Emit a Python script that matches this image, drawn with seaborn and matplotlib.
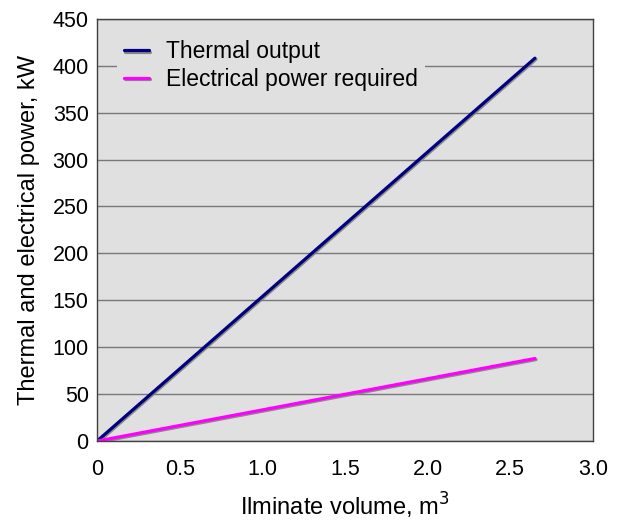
import pandas as pd
import matplotlib.pyplot as plt
import matplotlib.patheffects as pe
import seaborn as sns

volume = [0.0, 2.65]
thermal = [0.0, 408.0]
electrical = [0.0, 88.0]

data = pd.concat([
    pd.DataFrame({'volume': volume, 'power': thermal, 'series': 'Thermal output'}),
    pd.DataFrame({'volume': volume, 'power': electrical, 'series': 'Electrical power required'}),
])

sns.set_style("white")
plt.rcParams["font.family"] = ["Liberation Sans", "DejaVu Sans"]
plt.rcParams["axes.linewidth"] = 1
plt.rcParams["text.color"] = "black"
plt.rcParams["axes.labelcolor"] = "black"
plt.rcParams["xtick.labelcolor"] = "black"
plt.rcParams["ytick.labelcolor"] = "black"

fig = plt.figure(figsize=(6.22, 5.22), dpi=100)
ax = fig.add_axes([0.156, 0.155, 0.797, 0.809])
ax.set_facecolor('#e0e0e0')

shadow = [pe.SimpleLineShadow(offset=(0.8, -0.8), shadow_color='#808080', alpha=0.9), pe.Normal()]
sns.lineplot(data=data, x='volume', y='power', hue='series',
             palette={'Thermal output': '#000080', 'Electrical power required': '#ff00ff'},
             linewidth=2.3, ax=ax, legend=True)
for line in ax.lines:
    line.set_path_effects(shadow)

ax.set_xlim(0, 3.0)
ax.set_ylim(0, 450)
ax.set_xticks([0, 0.5, 1.0, 1.5, 2.0, 2.5, 3.0])
ax.set_xticklabels(['0', '0.5', '1.0', '1.5', '2.0', '2.5', '3.0'])
ax.set_yticks(range(0, 451, 50))
ax.yaxis.grid(True, color='#787878', linewidth=1)
ax.set_axisbelow(True)
for s in ax.spines.values():
    s.set_color('#404040')
ax.tick_params(axis='x', direction='out', length=7, width=1, color='#404040', labelsize=15.5, pad=6)
ax.tick_params(axis='y', direction='out', length=4, width=1, color='#404040', labelsize=15.5, pad=2)

ax.set_xlabel("Ilminate volume, m$^3$", fontsize=17, labelpad=8)
ax.set_ylabel("Thermal and electrical power, kW", fontsize=17, labelpad=9)

leg = ax.legend(loc='upper left', frameon=True, fontsize=16.5, handlelength=1.1,
                handletextpad=0.75, labelspacing=0.2, borderpad=0.3,
                borderaxespad=0, bbox_to_anchor=(0.04, 0.965))
leg.get_frame().set_facecolor('#e0e0e0')
leg.get_frame().set_edgecolor('none')
leg.get_frame().set_alpha(1)
for h in leg.legend_handles:
    h.set_linewidth(2.3)
    h.set_path_effects(shadow)

plt.savefig("out.png", dpi=100)
